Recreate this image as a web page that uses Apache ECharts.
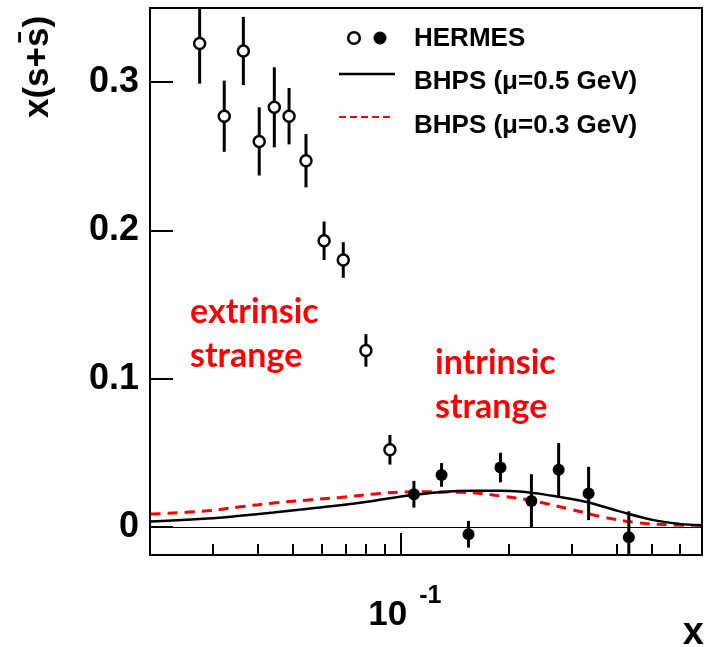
<!DOCTYPE html>
<html><head><meta charset="utf-8">
<script src="https://cdn.jsdelivr.net/npm/echarts@6/dist/echarts.min.js"></script>
<style>html,body{margin:0;padding:0;background:#fff}#c{width:704px;height:647px}</style>
</head><body><div id="c"></div>
<script>
// HERMES open points
const openX = [0.0275, 0.0322, 0.0364, 0.0403, 0.0444, 0.0488, 0.0544, 0.0611, 0.0691, 0.0799, 0.0932];
const openY = [0.326, 0.277, 0.321, 0.260, 0.283, 0.277, 0.247, 0.193, 0.180, 0.119, 0.052];
const openErr = [0.027, 0.024, 0.023, 0.023, 0.027, 0.019, 0.018, 0.013, 0.012, 0.011, 0.010];
// HERMES filled points
const fillX = [0.1087, 0.1298, 0.1543, 0.1894, 0.2310, 0.2751, 0.3334, 0.4315];
const fillY = [0.022, 0.035, -0.005, 0.040, 0.0175, 0.0385, 0.0225, -0.007];
const fillErr = [0.009, 0.008, 0.009, 0.010, 0.018, 0.018, 0.018, 0.0175];
// BHPS mu=0.5 GeV (solid black)
const bhps05X = [0.0201, 0.0289, 0.0356, 0.0441, 0.0544, 0.0677, 0.0836, 0.1037, 0.1284, 0.1586, 0.1886, 0.2143, 0.2647, 0.329, 0.4066, 0.502, 0.597, 0.689];
const bhps05Y = [0.0036, 0.0056, 0.0074, 0.0096, 0.0121, 0.0146, 0.0175, 0.0209, 0.0233, 0.0243, 0.0243, 0.0239, 0.0209, 0.0168, 0.0104, 0.0047, 0.0020, 0.0010];
// BHPS mu=0.3 GeV (dashed red)
const bhps03X = [0.0201, 0.0289, 0.0356, 0.0441, 0.0544, 0.0677, 0.0874, 0.108, 0.1487, 0.1922, 0.2285, 0.2951, 0.3647, 0.4534, 0.56, 0.689];
const bhps03Y = [0.0086, 0.0108, 0.0135, 0.016, 0.018, 0.0198, 0.0225, 0.0236, 0.0233, 0.0206, 0.018, 0.012, 0.0067, 0.0029, 0.0013, 0.001];
// axes
const xMin = 0.02, xMax = 0.69;
const yMin = -0.019, yMax = 0.35;
const xMinorTicks = [0.03, 0.04, 0.05, 0.06, 0.07, 0.08, 0.09, 0.2, 0.3, 0.4, 0.5, 0.6];
const xMajorTicks = [0.1];
const xTickLabels = ['{a|10}{b|-1}'];
const yTicks = [0, 0.1, 0.2, 0.3];
const yTickLabels = ['0', '0.1', '0.2', '0.3'];

const zip = (a, b, c) => a.map((v, i) => c ? [v, b[i], c[i]] : [v, b[i]]);
const FONT = 'Liberation Sans';
const errRender = function (params, api) {
  const x = api.value(0), y = api.value(1), e = api.value(2);
  const p1 = api.coord([x, y - e]);
  const p2 = api.coord([x, y + e]);
  return {type: 'line', shape: {x1: p1[0], y1: p1[1], x2: p2[0], y2: p2[1]},
    style: {stroke: '#000', lineWidth: 3}};
};

const chart = echarts.init(document.getElementById('c'), null, {renderer: 'canvas'});
chart.setOption({
  animation: false,
  backgroundColor: '#fff',
  grid: {left: 150, right: 2, top: 8, bottom: 92, show: true, borderColor: '#000', borderWidth: 2,
    containLabel: false, outerBoundsMode: 'none'},
  xAxis: [{
    type: 'log', logBase: 10, min: xMin, max: xMax, position: 'bottom',
    axisLine: {show: false, onZero: false}, splitLine: {show: false}, minorTick: {show: false},
    axisTick: {show: true, inside: true, length: 11, customValues: xMinorTicks, lineStyle: {color: '#000', width: 2}},
    axisLabel: {show: false}
  }, {
    type: 'log', logBase: 10, min: xMin, max: xMax, position: 'bottom',
    axisLine: {show: false, onZero: false}, splitLine: {show: false}, minorTick: {show: false},
    axisTick: {show: true, inside: true, length: 22, customValues: xMajorTicks, lineStyle: {color: '#000', width: 2}},
    axisLabel: {show: true, customValues: xMajorTicks, margin: 29,
      formatter: (v) => { let best = 0; xMajorTicks.forEach((t, i) => { if (Math.abs(Math.log10(t) - Math.log10(v)) < Math.abs(Math.log10(xMajorTicks[best]) - Math.log10(v))) best = i; }); return xTickLabels[best]; },
      rich: {
        a: {fontSize: 35, fontWeight: 'bold', fontFamily: FONT, color: '#000', lineHeight: 40, verticalAlign: 'bottom', padding: [0, 0, 0, 8]},
        b: {fontSize: 25, fontWeight: 'bold', fontFamily: FONT, color: '#000', padding: [0, 0, 24, 12], verticalAlign: 'top'}
      }}
  }],
  yAxis: {
    type: 'value', min: yMin, max: yMax,
    axisLine: {show: false, onZero: false}, splitLine: {show: false},
    axisTick: {show: true, inside: true, length: 23, customValues: yTicks, lineStyle: {color: '#000', width: 2}},
    axisLabel: {show: true, customValues: yTicks, margin: 11, color: '#000', fontSize: 36, fontWeight: 'bold', fontFamily: FONT,
      formatter: (v) => { let best = 0; yTicks.forEach((t, i) => { if (Math.abs(t - v) < Math.abs(yTicks[best] - v)) best = i; }); return yTickLabels[best]; }}
  },
  series: [
    {type: 'line', name: 'zero', data: [], silent: true,
      markLine: {silent: true, symbol: 'none', label: {show: false}, animation: false,
        lineStyle: {color: '#000', width: 1, type: 'solid'}, data: [{yAxis: 0}]}},
    {type: 'line', name: 'BHPS (μ=0.3 GeV)', data: zip(bhps03X, bhps03Y), smooth: 0.4, showSymbol: false, symbol: 'none',
      lineStyle: {color: '#ff0000', width: 3, type: [10, 7]}, z: 3, silent: true},
    {type: 'line', name: 'BHPS (μ=0.5 GeV)', data: zip(bhps05X, bhps05Y), smooth: 0.4, showSymbol: false, symbol: 'none',
      lineStyle: {color: '#000', width: 2.5}, z: 4, silent: true},
    {type: 'custom', name: 'errOpen', data: zip(openX, openY, openErr), renderItem: errRender, clip: true, z: 5, silent: true},
    {type: 'custom', name: 'errFill', data: zip(fillX, fillY, fillErr), renderItem: errRender, clip: true, z: 5, silent: true},
    {type: 'scatter', name: 'HERMES open', data: zip(openX, openY), symbol: 'circle', symbolSize: 11,
      itemStyle: {color: '#fff', borderColor: '#000', borderWidth: 2.5, opacity: 1}, z: 6, silent: true},
    {type: 'scatter', name: 'HERMES filled', data: zip(fillX, fillY), symbol: 'circle', symbolSize: 12,
      itemStyle: {color: '#000', opacity: 1}, z: 6, silent: true}
  ],
  graphic: [
    {type: 'circle', shape: {cx: 354, cy: 38, r: 5.8}, style: {fill: '#fff', stroke: '#000', lineWidth: 2.5}, z: 10},
    {type: 'circle', shape: {cx: 380, cy: 38, r: 6.5}, style: {fill: '#000'}, z: 10},
    {type: 'text', x: 414, y: 39, style: {text: 'HERMES', fontSize: 26, fontWeight: 'bold', fontFamily: FONT, fill: '#000', verticalAlign: 'middle'}, z: 10},
    {type: 'line', shape: {x1: 339, y1: 74, x2: 395, y2: 74}, style: {stroke: '#000', lineWidth: 2.5}, z: 10},
    {type: 'text', x: 414, y: 82, style: {text: 'BHPS (μ=0.5 GeV)', fontSize: 26, fontWeight: 'bold', fontFamily: FONT, fill: '#000', verticalAlign: 'middle'}, z: 10},
    {type: 'line', shape: {x1: 339, y1: 117, x2: 392, y2: 117}, style: {stroke: '#ff0000', lineWidth: 2, lineDash: [7, 4]}, z: 10},
    {type: 'text', x: 414, y: 126, style: {text: 'BHPS (μ=0.3 GeV)', fontSize: 26, fontWeight: 'bold', fontFamily: FONT, fill: '#000', verticalAlign: 'middle'}, z: 10},
    {type: 'text', x: 190, y: 290, style: {text: 'extrinsic\nstrange', fontSize: 34, fontWeight: 'bold', fontFamily: 'Lato', lineHeight: 44, fill: '#ff0000', verticalAlign: 'top'}, z: 10},
    {type: 'text', x: 435, y: 341, style: {text: 'intrinsic\nstrange', fontSize: 34, fontWeight: 'bold', fontFamily: 'Lato', lineHeight: 44, fill: '#ff0000', verticalAlign: 'top'}, z: 10},
    {type: 'text', x: 38, y: 67, rotation: Math.PI / 2, style: {text: 'x(s+s\u0304)', fontSize: 35, fontWeight: 'bold', fontFamily: FONT, fill: '#000', align: 'center', verticalAlign: 'middle'}, z: 10},
    {type: 'text', x: 704, y: 634, style: {text: 'x', fontSize: 38, fontWeight: 'bold', fontFamily: FONT, fill: '#000', align: 'right', verticalAlign: 'middle'}, z: 10}
  ]
});
</script>
</body></html>
